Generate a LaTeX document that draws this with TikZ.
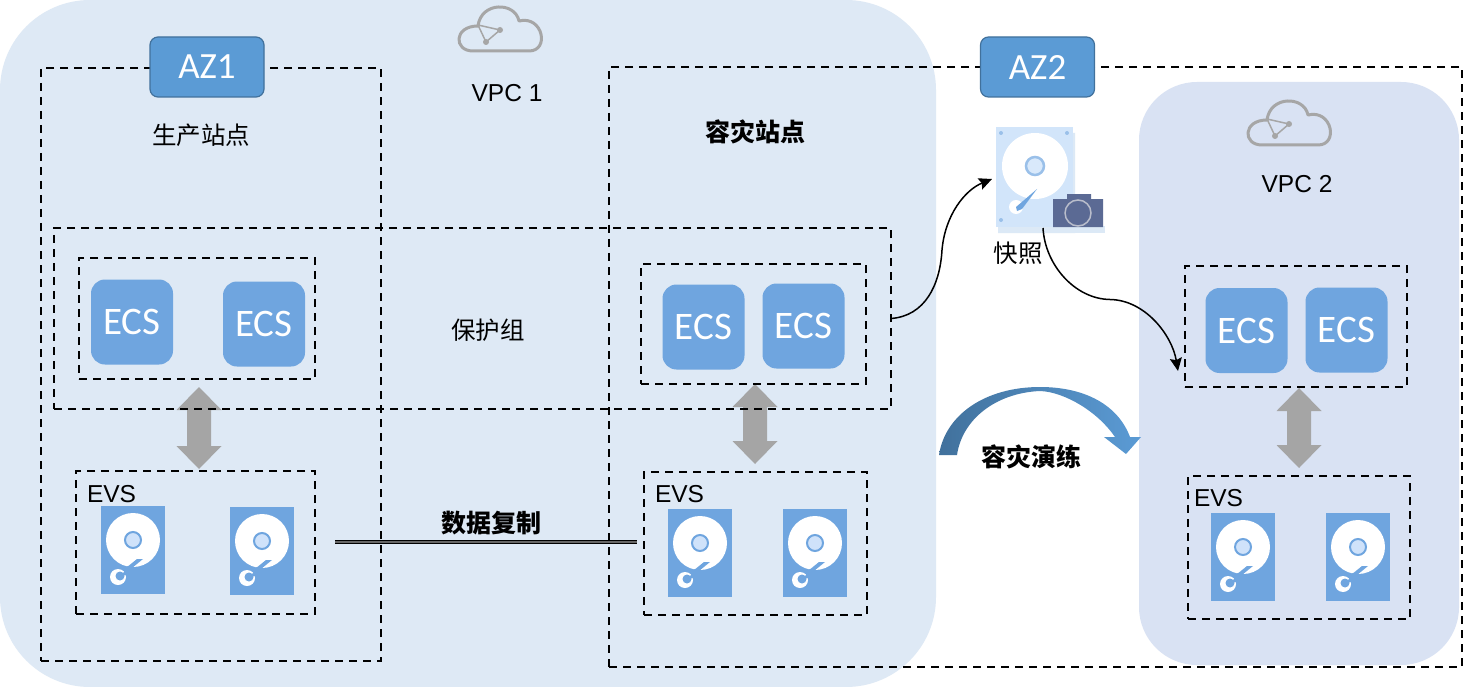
\documentclass[tikz,border=0pt]{standalone}
\usepackage{fontspec}
\setmainfont{Liberation Sans}
\newfontfamily\cjk{Noto Sans CJK SC}
\newfontfamily\calib{Carlito}
\usetikzlibrary{arrows.meta,calc}
\definecolor{vpcone}{HTML}{DEE9F5}
\definecolor{vpctwo}{HTML}{D9E2F3}
\definecolor{iconblue}{HTML}{6FA5DF}
\definecolor{azfill}{HTML}{5B9BD5}
\definecolor{azline}{HTML}{41719C}
\definecolor{cloudgray}{HTML}{A6A6A6}
\definecolor{arrowgray}{HTML}{A5A5A5}
\definecolor{snapblue}{HTML}{D2E5FA}
\definecolor{snapshade}{HTML}{DCE9F6}
\definecolor{camblue}{HTML}{5B6A94}
\definecolor{camring}{HTML}{B9BDCB}
\definecolor{ringfill}{HTML}{CFE2FA}
\definecolor{lineinner}{HTML}{666666}
\tikzset{
  x=1pt,y=-1pt,
  inner sep=0pt,outer sep=0pt,
  dbox/.style={draw=black,line width=1.7pt,dash pattern=on 8pt off 6pt,minimum width=#1},
  dboxh/.style={minimum height=#1},
  ecsbox/.style={fill=iconblue,rounded corners=14pt,minimum width=82pt,minimum height=85pt,text=white,font=\calib\fontsize{39}{43}\selectfont},
  azbox/.style={fill=azfill,draw=azline,line width=1.2pt,rounded corners=8pt,minimum width=114pt,minimum height=60pt,text=white,font=\calib\fontsize{37}{41}\selectfont},
  evstext/.style={font=\fontsize{24.5}{28}\selectfont,anchor=west},
  lbl/.style={font=\fontsize{24.5}{28}\selectfont},
  cjklbl/.style={font=\cjk\fontsize{24.5}{28}\selectfont},
  cjkbold/.style={font=\cjk\bfseries\fontsize{25}{28}\selectfont},
  conn/.style={-{Stealth[length=13pt,width=12pt,inset=2pt]},line width=1.5pt,black},
}
% disk icon: top-left corner at (#1,#2)
\newcommand{\diskicon}[2]{%
  \begin{scope}[shift={(#1,#2)}]
    \fill[iconblue] (0,0) rectangle (64,88);
    \fill[white] (32,34) circle[radius=27];
    \fill[iconblue] (25,61) -- (28,59.5) -- (36,53) -- (42,53) -- (31,62) -- (22,68) -- cycle;
    \fill[ringfill,draw=iconblue,line width=2pt] (32,34) circle[radius=8];
    \fill[white] (17,71) circle[radius=8];
    \fill[iconblue] (19,70) circle[radius=4.5];
    \fill[iconblue] (19,70) -- (27,62) -- (25,69) -- cycle;
  \end{scope}}
% cloud icon
\newcommand{\cloudicon}[2]{%
  \begin{scope}[shift={(#1,#2)}]
    \draw[cloudgray,line width=3pt,line join=round] (15,46) .. controls (-4.5,46) and (-4.5,21) .. (20,21)
       .. controls (23,-3.5) and (57,-3.5) .. (61,16)
       .. controls (85,10) and (92,46) .. (71,46) -- cycle;
    \draw[cloudgray,line width=1.5pt] (20,20) -- (42,25) -- (28,37) -- cycle;
    \fill[cloudgray] (42,25) circle[radius=3] (28,37) circle[radius=3];
  \end{scope}}
\begin{document}
\begin{tikzpicture}
\useasboundingbox (0,0) rectangle (1463,687);
\fill[white] (0,0) rectangle (1463,687);
% VPC regions
\node[fill=vpcone,rounded corners=90pt,minimum width=936pt,minimum height=687pt] (vpca) at (468,343.5) {};
\node[fill=vpctwo,rounded corners=58pt,minimum width=320pt,minimum height=583pt] (vpcb) at (1299,373.5) {};
\cloudicon{458}{5}
\cloudicon{1247}{99}
% gray double arrows
\foreach \cx/\ya/\yb in {199/387/469,755/384/464,1299/388/468}{
  \fill[arrowgray] (\cx,\ya) -- (\cx+22.5,\ya+23) -- (\cx+12,\ya+23) -- (\cx+12,\yb-23) -- (\cx+22.5,\yb-23)
     -- (\cx,\yb) -- (\cx-22.5,\yb-23) -- (\cx-12,\yb-23) -- (\cx-12,\ya+23) -- (\cx-22.5,\ya+23) -- cycle;
}
% zones
\node[dbox=340pt,dboxh=593pt,line width=2pt] (zonea) at (211,364.5) {};
\node[dbox=853pt,dboxh=600pt,line width=2pt] (zoneb) at (1035.5,367) {};
\node[dbox=837pt,dboxh=181pt] (pg) at (472.5,318.5) {};
% AZ tags
\node[azbox] (aza) at (207,67) {AZ1};
\node[azbox] (azb) at (1037.5,67) {AZ2};
% labels
\node[lbl] (vpcalbl) at (507,93) {VPC 1};
\node[lbl] (vpcblbl) at (1297,184) {VPC 2};
\node[cjklbl] (prod) at (201,135) {生产站点};
\node[cjkbold] (dr) at (755,132) {容灾站点};
\node[cjklbl] (pglbl) at (488,330) {保护组};
\node[cjklbl] (snaplbl) at (1018,253) {快照};
\node[cjkbold] (replbl) at (491,523) {数据复制};
\node[cjkbold] (drill) at (1031,457) {容灾演练};
% inner boxes
\node[dbox=236pt,dboxh=121pt] (ecsa) at (197,318.5) {};
\node[dbox=225pt,dboxh=120pt] (ecsb) at (753.5,324) {};
\node[dbox=222pt,dboxh=121pt] (ecsc) at (1296,326.5) {};
\node[dbox=239pt,dboxh=143pt] (evsa) at (195.5,542.5) {};
\node[dbox=223pt,dboxh=143pt] (evsb) at (755.5,543.5) {};
\node[dbox=222pt,dboxh=143pt] (evsc) at (1299,547.5) {};
% ECS nodes
\node[ecsbox] (e1) at (132,322) {ECS};
\node[ecsbox] (e2) at (264,324) {ECS};
\node[ecsbox] (e3) at (703.5,327) {ECS};
\node[ecsbox] (e4) at (803.5,326) {ECS};
\node[ecsbox] (e5) at (1246.5,330.5) {ECS};
\node[ecsbox] (e6) at (1346.5,330) {ECS};
% EVS labels
\node[evstext] (ev1) at (87,494) {EVS};
\node[evstext] (ev2) at (655,494) {EVS};
\node[evstext] (ev3) at (1194,498) {EVS};
\diskicon{101}{506}
\diskicon{230}{507}
\diskicon{668}{509}
\diskicon{783}{509}
\diskicon{1211}{513}
\diskicon{1326}{513}
% snapshot icon
\node[fill=snapblue,minimum width=77pt,minimum height=100pt] (snap) at (1034.5,177) {};
\fill[snapshade] (1073,133) rectangle (1075,228) (998,227) rectangle (1075,233);
\fill[white] (1035,166) circle[radius=33];
\fill[snapblue!85!white,draw=iconblue!70!white,line width=2.5pt] (1035,166) circle[radius=9];
\fill[white] (1016,207) circle[radius=7];
\fill[iconblue] (1016,207) -- (1037,189) -- (1022,209) -- (1017,211) -- cycle;
\fill[iconblue!70!white] (1001,133) circle[radius=2] (1067,133) circle[radius=2] (1001,220) circle[radius=2];
\fill[snapshade] (1055,226) rectangle (1105,233);
\fill[camblue] (1053,199) -- (1067,199) -- (1067,194) -- (1091,194) -- (1091,199) -- (1103,199) -- (1103,227) -- (1053,227) -- cycle;
\draw[camring,line width=1.5pt] (1078,213) circle[radius=13];
% connectors
\coordinate (snapin) at (992,179);
\coordinate (snapout) at (1043,228);
\coordinate (ecsin) at (1178,371);
\draw[conn] (pg.east) .. controls (925,316) and (940,285) .. (942,250) .. controls (945,215) and (965,190) .. (snapin);
\draw[conn] (snapout) .. controls (1045,265) and (1075,299) .. (1110,299.5) .. controls (1145,300) and (1172,335) .. (ecsin);
% replication line
\coordinate (repa) at (335,542);
\coordinate (repb) at (637,542);
\draw[black,line width=4pt] (repa) -- (repb);
\draw[lineinner,line width=1.4pt] (repa) -- (repb);
% drill arrow
\shade[left color=azline,right color=azfill,shading angle=90]
  (939,455) .. controls (945,415) and (985,387) .. (1040,387)
  .. controls (1085,387) and (1118,405) .. (1130,437)
  -- (1141,437) -- (1126,454) -- (1104,437) -- (1115,437)
  .. controls (1098,412) and (1065,392) .. (1040,391)
  .. controls (995,393) and (962,420) .. (957,455) -- cycle;
\end{tikzpicture}
\end{document}
